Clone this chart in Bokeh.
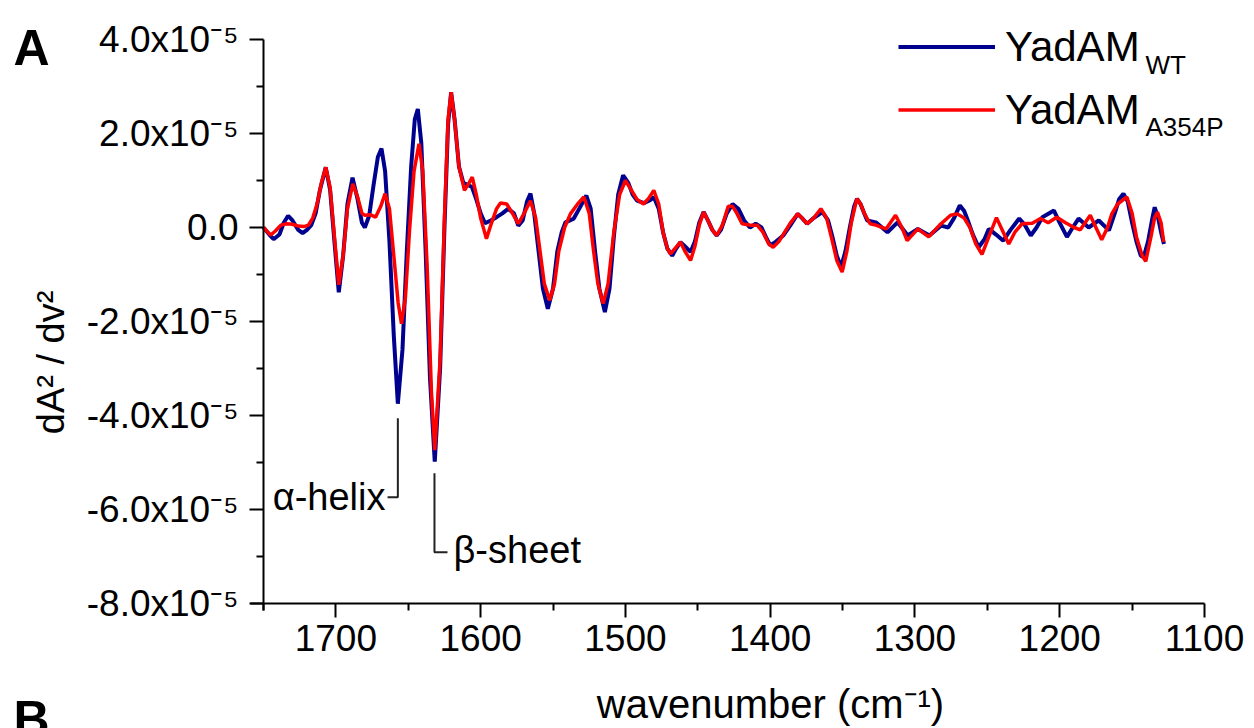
import numpy as np
from bokeh.plotting import figure
from bokeh.models import Range1d, FixedTicker, Label
from bokeh.models import Legend, LegendItem
from bokeh.embed import file_html
from bokeh.resources import INLINE

# ---------------- data (y in units of 1e-5) ----------------
wt_x = [1750, 1746, 1743, 1739, 1736, 1733, 1730, 1726, 1723, 1720, 1717, 1714, 1711, 1707, 1704, 1701,
        1698, 1695, 1692, 1688.5, 1685, 1682, 1680, 1677, 1674, 1671, 1668.5, 1666, 1663, 1660, 1657.2,
        1654, 1651, 1648, 1645.5, 1643.4, 1641, 1638, 1635, 1631.7, 1628, 1625, 1622.5, 1620.4, 1618,
        1615, 1612, 1610.5, 1606, 1603, 1600, 1597, 1593, 1589, 1585, 1581, 1577, 1574, 1571, 1568,
        1565.6, 1563, 1560, 1557, 1553.6, 1550, 1547, 1544, 1541.4, 1535.7, 1531, 1527, 1524, 1521,
        1518, 1514.2, 1511, 1508, 1505, 1501.6, 1498, 1495, 1492, 1487, 1483, 1480.4, 1477, 1474, 1471,
        1467.7, 1465, 1462, 1459, 1455, 1452, 1449, 1446, 1443, 1440, 1437, 1434, 1430, 1426, 1422,
        1418, 1414, 1410, 1406, 1403, 1400, 1396, 1391, 1386, 1381, 1378, 1374.5, 1370, 1364, 1360,
        1357, 1354, 1351, 1348, 1345, 1342, 1340, 1337.6, 1335, 1333, 1327, 1319, 1312, 1305, 1298,
        1290, 1282, 1277, 1273, 1269, 1266, 1263, 1260, 1256, 1252, 1249, 1244, 1239, 1234, 1228,
        1224, 1220, 1216, 1212, 1204, 1200, 1195, 1191, 1187, 1180, 1173, 1166, 1162, 1159, 1156,
        1153, 1150, 1147, 1144, 1142, 1139, 1136, 1134.4, 1132, 1130, 1128]
wt_y = [0.0, -0.15, -0.25, -0.15, 0.1, 0.25, 0.15, -0.05, -0.12, -0.05, 0.05, 0.3, 0.8, 1.28, 0.8, -0.3,
        -1.38, -0.6, 0.5, 1.06, 0.6, 0.1, 0.0, 0.25, 0.9, 1.5, 1.68, 1.2, -0.3, -2.3, -3.75,
        -2.6, -0.5, 1.3, 2.3, 2.52, 1.8, -0.5, -3.2, -4.98, -3.0, 0.0, 2.2, 2.88, 2.3,
        1.3, 0.95, 0.93, 0.86, 0.6, 0.3, 0.09, 0.15, 0.22, 0.3, 0.4, 0.3, 0.04, 0.15, 0.55,
        0.72, 0.3, -0.5, -1.3, -1.73, -1.3, -0.5, -0.1, 0.11, 0.19, 0.45, 0.68, 0.4, -0.5,
        -1.3, -1.8, -1.3, -0.2, 0.7, 1.11, 0.95, 0.7, 0.57, 0.52, 0.58, 0.65, 0.4, -0.1, -0.45,
        -0.6, -0.45, -0.31, -0.4, -0.52, -0.3, 0.1, 0.33, 0.15, -0.05, -0.17, -0.05, 0.3, 0.5, 0.4,
        0.15, 0.0, 0.08, 0.0, -0.2, -0.38, -0.3, -0.17, 0.05, 0.29, 0.2, 0.08, 0.2, 0.33, 0.15,
        -0.2, -0.6, -0.84, -0.5, 0.0, 0.45, 0.61, 0.5, 0.3, 0.15, 0.11, -0.1, 0.11, -0.17, -0.03,
        -0.17, 0.04, 0.0, 0.2, 0.47, 0.35, 0.11, -0.15, -0.42, -0.25, -0.03, -0.15, -0.28, -0.05, 0.19,
        0.05, -0.17, 0.0, 0.22, 0.36, 0.1, -0.2, 0.0, 0.19, 0.0, 0.15, -0.06, 0.3, 0.6, 0.72,
        0.55, 0.1, -0.3, -0.6, -0.63, -0.3, 0.2, 0.43, 0.2, -0.1, -0.35]

mut_x = [1750, 1747, 1745, 1742, 1738, 1734, 1730, 1726, 1722, 1719, 1716, 1713, 1710, 1707, 1704, 1701,
         1698, 1695, 1692, 1688.3, 1685, 1682, 1680, 1676, 1672.6, 1669, 1666, 1663, 1660, 1657, 1654.7,
         1652, 1649, 1646, 1642.6, 1640, 1637, 1634, 1631.7, 1628, 1625, 1622.5, 1620.4, 1618, 1615,
         1611.2, 1608, 1605.8, 1603, 1600, 1596, 1593, 1589, 1586.3, 1582, 1578, 1574, 1570, 1565.6,
         1562, 1559, 1556, 1552.3, 1549, 1546, 1542, 1538, 1533, 1528.7, 1525, 1522, 1519, 1515.4,
         1512, 1508, 1504, 1500, 1496, 1492, 1487.5, 1484, 1480.4, 1477, 1474, 1471, 1468.9, 1465,
         1462, 1459, 1455, 1452, 1449, 1446, 1443, 1440, 1437, 1433, 1429, 1426, 1423, 1419.4, 1414,
         1409, 1405, 1401, 1398, 1394, 1390, 1386, 1381, 1378, 1374.5, 1370, 1365, 1361, 1357, 1354,
         1350.3, 1347, 1344, 1341, 1340, 1337.6, 1335, 1331, 1327, 1320, 1313.4, 1309, 1305.4, 1298,
         1290.5, 1283, 1275.4, 1270.8, 1266, 1262, 1258, 1253.7, 1249, 1243.7, 1239, 1235.2, 1231, 1226,
         1219, 1213.3, 1208, 1202, 1196, 1190, 1185.8, 1178.9, 1175, 1171, 1167, 1164, 1160, 1153.6,
         1150, 1147, 1143, 1140.6, 1137, 1134.5, 1132.5, 1130, 1128.2]
mut_y = [0.0, -0.1, -0.16, -0.08, 0.05, 0.08, 0.07, 0.03, 0.02, 0.05, 0.2, 0.5, 0.95, 1.28, 0.85, -0.2,
         -1.22, -0.6, 0.4, 0.93, 0.65, 0.3, 0.26, 0.27, 0.22, 0.45, 0.72, 0.4, -0.6, -1.6, -2.05,
         -1.5, 0.0, 1.2, 1.78, 1.2, -0.8, -3.5, -4.74, -2.8, 0.2, 2.3, 2.88, 2.3, 1.3,
         0.79, 0.95, 1.07, 0.7, 0.2, -0.24, 0.05, 0.4, 0.52, 0.5, 0.3, 0.08, 0.3, 0.57,
         0.2, -0.5, -1.2, -1.55, -1.2, -0.5, 0.0, 0.29, 0.5, 0.65, 0.3, -0.5, -1.2, -1.62,
         -1.2, -0.1, 0.7, 1.0, 0.8, 0.6, 0.5, 0.62, 0.79, 0.5, -0.1, -0.45, -0.56, -0.42,
         -0.31, -0.5, -0.7, -0.4, 0.05, 0.33, 0.15, -0.05, -0.17, 0.05, 0.45, 0.45, 0.3, 0.08, 0.05,
         0.05, -0.1, -0.35, -0.42, -0.3, -0.1, 0.1, 0.29, 0.2, 0.08, 0.2, 0.4, 0.2, -0.3, -0.7,
         -0.95, -0.5, 0.1, 0.5, 0.61, 0.5, 0.3, 0.08, 0.05, -0.03, 0.26, 0.0, -0.28, -0.03,
         -0.2, 0.05, 0.26, 0.29, 0.2, 0.0, -0.35, -0.57, -0.2, 0.21, -0.1, -0.35, -0.1, 0.08,
         0.09, 0.19, 0.1, 0.22, 0.1, 0.0, -0.05, 0.26, 0.0, -0.26, 0.0, 0.29, 0.5, 0.65,
         0.3, -0.2, -0.6, -0.72, -0.2, 0.2, 0.33, 0.1, -0.31]

SCALE = 1e-5
series_names = ["YadAM", "YadAM"]
series_subs = ["WT", "A354P"]

x_major = [1700, 1600, 1500, 1400, 1300, 1200, 1100]
x_minor = [1750, 1650, 1550, 1450, 1350, 1250, 1150]
y_major = [-8e-5, -6e-5, -4e-5, -2e-5, 0.0, 2e-5, 4e-5]
y_minor = [-7e-5, -5e-5, -3e-5, -1e-5, 1e-5, 3e-5]
y_labels = ["-8.0x10\u207b\u2075", "-6.0x10\u207b\u2075", "-4.0x10\u207b\u2075", "-2.0x10\u207b\u2075",
            "0.0", "2.0x10\u207b\u2075", "4.0x10\u207b\u2075"]

# annotations (band assignments)
helix_line_x = [1657.2, 1657.2, 1664.3]
helix_line_y = [-4.06e-5, -5.74e-5, -5.74e-5]
sheet_line_x = [1631.9, 1631.9, 1622.9]
sheet_line_y = [-5.23e-5, -6.91e-5, -6.91e-5]

FONT = "Liberation Sans"
BLUE = "#00008f"
RED = "#ff0000"

# The frame covers the whole canvas; axes are pinned at fixed data locations.
p = figure(width=1254, height=728, output_backend="svg", toolbar_location=None,
           x_range=Range1d(1931.67, 1065.46), y_range=Range1d(-10.66e-5, 4.83e-5),
           min_border_left=0, min_border_right=0, min_border_top=0, min_border_bottom=0)
p.outline_line_color = None
p.xgrid.visible = False
p.ygrid.visible = False
p.background_fill_color = "white"
p.border_fill_color = "white"

r_wt = p.line(np.array(wt_x), np.array(wt_y) * SCALE, line_color=BLUE, line_width=4)
r_mut = p.line(np.array(mut_x), np.array(mut_y) * SCALE, line_color=RED, line_width=3.5)

for ax in (p.xaxis[0], p.yaxis[0]):
    ax.axis_line_width = 2
    ax.major_tick_line_width = 2
    ax.minor_tick_line_width = 2
    ax.major_tick_in = 0
    ax.major_tick_out = 14
    ax.minor_tick_in = 0
    ax.minor_tick_out = 7
    ax.major_label_text_font = FONT
    ax.major_label_text_font_size = "37px"
    ax.major_label_text_color = "black"
    ax.axis_line_color = "black"
    ax.major_tick_line_color = "black"
    ax.minor_tick_line_color = "black"

p.xaxis[0].fixed_location = -8e-5
p.yaxis[0].fixed_location = 1750
p.xaxis[0].bounds = (1100, 1759)
p.yaxis[0].bounds = (-8.15e-5, 4e-5)
p.xaxis[0].ticker = FixedTicker(ticks=x_major, minor_ticks=x_minor)
p.yaxis[0].ticker = FixedTicker(ticks=y_major, minor_ticks=y_minor)
p.yaxis[0].major_label_overrides = {v: s for v, s in zip(y_major, y_labels)}
p.xaxis[0].major_label_standoff = 8
p.yaxis[0].major_label_standoff = 11

# annotation leader lines
p.line(helix_line_x, helix_line_y, line_color="#222222", line_width=2)
p.line(sheet_line_x, sheet_line_y, line_color="#222222", line_width=2)

legend = Legend(items=[LegendItem(label=series_names[0], renderers=[r_wt]),
                       LegendItem(label=series_names[1], renderers=[r_mut])],
                location=(898, 594.5), glyph_width=97, glyph_height=47, label_height=47,
                label_standoff=10, spacing=15, padding=0, margin=0,
                border_line_color=None, background_fill_alpha=0,
                label_text_font=FONT, label_text_font_size="42px", label_text_color="black")
p.add_layout(legend)

def lab(x, y, text, size, align="left", style="normal", angle=0.0):
    p.add_layout(Label(x=x, y=y, text=text, text_font=FONT, text_font_size=size,
                       text_align=align, text_baseline="middle", text_font_style=style,
                       angle=angle, text_color="black"))

lab(1140.75, 3.468e-5, series_subs[0], "26px")
lab(1140.75, 2.149e-5, series_subs[1], "26px")
lab(1665.73, -5.734e-5, "\u03b1-helix", "38px", align="right")
lab(1618.75, -6.872e-5, "\u03b2-sheet", "38px")
lab(1399.8, -10.13e-5, "wavenumber (cm\u207b\u00b9)", "40px", align="center")
lab(1897.1, -2.87e-5, "dA\u00b2 / dv\u00b2", "38px", align="center", angle=np.pi / 2)
lab(1922.7, 3.819e-5, "A", "50px", style="bold")
lab(1922.7, -10.45e-5, "B", "50px", style="bold")

open("out.html", "w").write(file_html(p, INLINE))
